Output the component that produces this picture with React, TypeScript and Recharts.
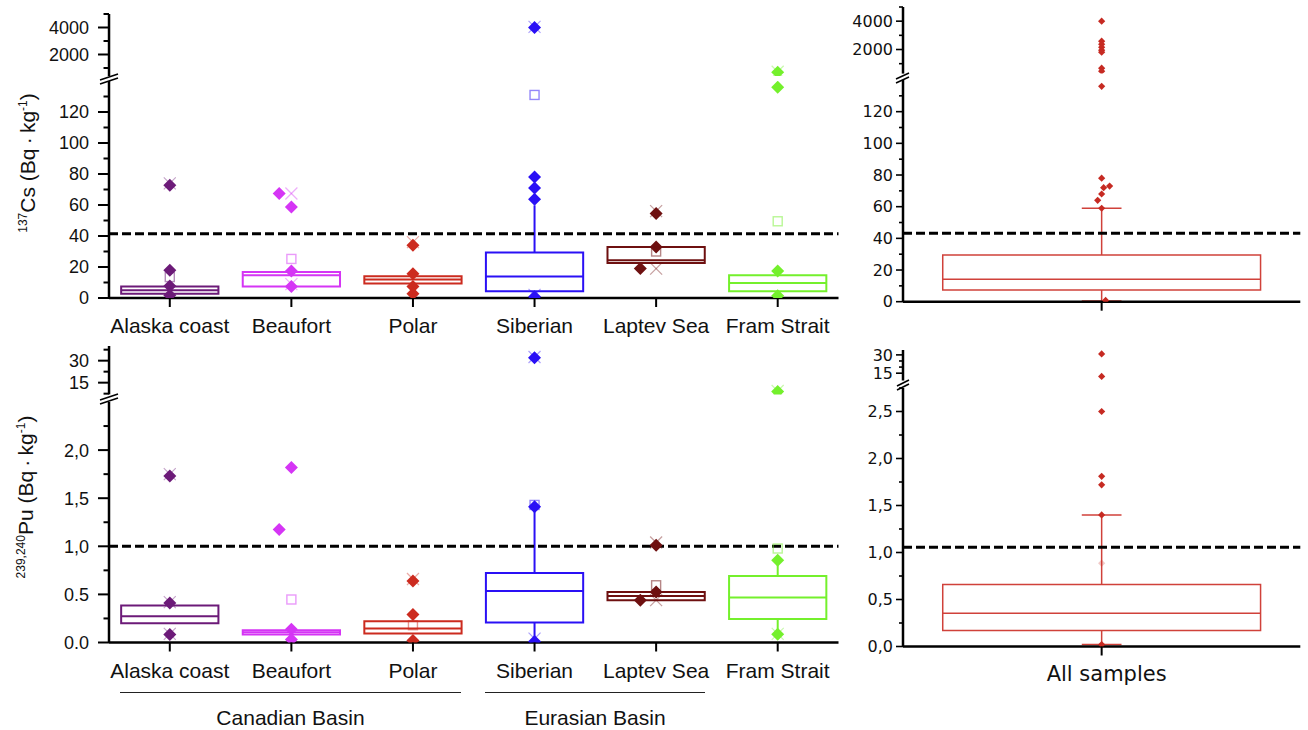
import React from "react";
import {
  ComposedChart,
  XAxis,
  YAxis,
  Scatter,
  ReferenceArea,
  ReferenceLine,
} from "recharts";

const FONT = '"Liberation Sans", Arial, Helvetica, sans-serif';
const FONT_R = '"DejaVu Sans", Verdana, sans-serif';

const regions = ["Alaska coast", "Beaufort", "Polar", "Siberian", "Laptev Sea", "Fram Strait"];
const regionColors = ["#6c1a78", "#d535f5", "#cc2b1f", "#2a10f5", "#6e1010", "#74f02c"];
const regionTicks = [1, 2, 3, 4, 5, 6];
const allLabels = ["All samples"];
const allTicks = [1];
const allColors = ["#c62a22"];

// tick values / labels
const csTicks = [0, 20, 40, 60, 80, 100, 120];
const csTickLabels = ["0", "20", "40", "60", "80", "100", "120"];
const csMinor = [10, 30, 50, 70, 90, 110, 130];
const csHighTicks = [2000, 4000];
const csHighTickLabels = ["2000", "4000"];
const csHighMinor = [1000, 3000, 5000];

const puTicks = [0, 0.5, 1, 1.5, 2];
const puTickLabels = ["0.0", "0.5", "1,0", "1,5", "2,0"];
const puMinor = [0.25, 0.75, 1.25, 1.75, 2.25];
const puHighTicks = [15, 30];
const puHighTickLabels = ["15", "30"];
const puHighMinor = [7.5, 22.5, 37.5];

const puAllTicks = [0, 0.5, 1, 1.5, 2, 2.5];
const puAllTickLabels = ["0,0", "0,5", "1,0", "1,5", "2,0", "2,5"];
const puAllMinor = [0.25, 0.75, 1.25, 1.75, 2.25, 2.75];
const puAllHighMinor = [20, 25];

// 137Cs (Bq·kg-1) by region
const csQ1 = [2.8, 7.5, 9.3, 4.3, 22.6, 4.3];
const csMedian = [5.0, 14.6, 11.9, 13.8, 24.3, 9.7];
const csQ3 = [7.5, 16.8, 14.0, 29.3, 32.9, 14.6];
const csLow = [2.8, 7.5, 9.3, 0.8, 22.6, 4.3];
const csHigh = [7.5, 16.8, 14.0, 59.8, 32.9, 14.6];
const csLimit = 41.5;

// [region, value, marker, nudge]  d = diamond, s = open square, x = cross, f = faint dot
type Obs = [number, number, string, number];
const csObs: Obs[] = [
  [1, 74, "x", 0], [1, 72.7, "d", 0], [1, 17.9, "d", 0], [1, 13.5, "s", 0], [1, 7.7, "d", 0], [1, 1.7, "d", 0],
  [2, 67.4, "x", 0], [2, 67.4, "d", -0.1], [2, 58.7, "d", 0], [2, 25.2, "s", 0], [2, 17.4, "d", 0], [2, 9, "x", 0], [2, 7.5, "d", 0],
  [3, 36, "x", 0], [3, 34, "d", 0], [3, 15.7, "d", 0], [3, 7.5, "d", 0], [3, 2.8, "d", 0],
  [4, 4050, "x", 0], [4, 4000, "d", 0], [4, 131, "s", 0], [4, 78, "d", 0], [4, 71, "d", 0], [4, 63.7, "d", 0], [4, 2, "x", 0], [4, 0.8, "d", 0],
  [5, 56, "x", 0], [5, 54.5, "d", 0], [5, 32.9, "d", 0], [5, 30, "s", 0], [5, 19, "d", -0.13], [5, 19, "x", 0],
  [6, 720, "x", 0], [6, 690, "d", 0], [6, 136, "d", 0], [6, 49.5, "s", 0], [6, 17.4, "d", 0], [6, 1.5, "d", 0],
];

// 239,240Pu (Bq·kg-1) by region
const puQ1 = [0.2, 0.083, 0.094, 0.208, 0.44, 0.245];
const puMedian = [0.273, 0.107, 0.146, 0.536, 0.484, 0.468];
const puQ3 = [0.385, 0.128, 0.221, 0.723, 0.526, 0.69];
const puLow = [0.2, 0.083, 0.094, 0.02, 0.44, 0.086];
const puHigh = [0.385, 0.128, 0.221, 1.41, 0.526, 0.855];
const puLimit = 1.0;

const puObs: Obs[] = [
  [1, 1.75, "x", 0], [1, 1.73, "d", 0], [1, 0.42, "x", 0], [1, 0.41, "d", 0], [1, 0.09, "x", 0], [1, 0.083, "d", 0],
  [2, 1.82, "d", 0], [2, 1.175, "d", -0.1], [2, 0.447, "s", 0], [2, 0.138, "d", 0], [2, 0.03, "d", 0],
  [3, 0.66, "x", 0], [3, 0.64, "d", 0], [3, 0.29, "d", 0], [3, 0.18, "s", 0], [3, 0.02, "d", 0],
  [4, 32.5, "x", 0], [4, 32, "d", 0], [4, 1.43, "s", 0], [4, 1.41, "d", 0], [4, 0.04, "x", 0], [4, 0.01, "d", 0],
  [5, 1.04, "x", 0], [5, 1.01, "d", 0], [5, 0.595, "s", 0], [5, 0.526, "d", 0], [5, 0.44, "d", -0.13], [5, 0.44, "x", 0],
  [6, 9.3, "x", 0], [6, 8.9, "d", 0], [6, 0.977, "s", 0], [6, 0.855, "d", 0], [6, 0.09, "x", 0], [6, 0.086, "d", 0],
];

// all samples
const csAllQ1 = [7.4];
const csAllMedian = [14.1];
const csAllQ3 = [29.5];
const csAllLow = [0.5];
const csAllHigh = [59];
const csAllLimit = 43.2;
const csAllObs: Obs[] = [
  [1, 4000, "d", 0], [1, 2590, "d", 0], [1, 2370, "d", 0], [1, 2160, "d", 0], [1, 1950, "d", 0], [1, 1810, "d", 0],
  [1, 680, "d", 0], [1, 470, "d", 0], [1, 136, "d", 0], [1, 78, "d", 0], [1, 73, "d", 0.02], [1, 72, "d", 0.005],
  [1, 68, "d", 0], [1, 64, "d", -0.01], [1, 59, "d", 0], [1, 0.8, "d", 0.01],
];

const puAllQ1 = [0.17];
const puAllMedian = [0.354];
const puAllQ3 = [0.66];
const puAllLow = [0.02];
const puAllHigh = [1.4];
const puAllLimit = 1.056;
const puAllObs: Obs[] = [
  [1, 30.8, "d", 0], [1, 12.3, "d", 0], [1, 2.5, "d", 0], [1, 1.81, "d", 0], [1, 1.72, "d", 0],
  [1, 1.4, "d", 0], [1, 0.886, "f", 0], [1, 0.02, "d", 0],
];

const MT = 10;
const MR = 8;
const MB = 10;
const XH = 50;
const YW = 110;

function yTick(major: number[], labels: string[], right: boolean) {
  return (props: any) => {
    const { x, y, payload } = props;
    const i = major.indexOf(payload.value);
    const len = i >= 0 ? (right ? 7 : 11) : right ? 4 : 5.5;
    return (
      <g>
        <line x1={x - len} x2={x} y1={y} y2={y} stroke="#000" strokeWidth={right ? 1.6 : 2} />
        {i >= 0 && (
          <text
            x={x - (right ? 10 : 20)}
            y={y}
            dy="0.36em"
            textAnchor="end"
            fontSize={right ? 16 : 18}
            fontFamily={right ? FONT_R : FONT}
            fill="#111"
          >
            {labels[i]}
          </text>
        )}
      </g>
    );
  };
}

function xTick(ticks: number[], labels: string[], right: boolean) {
  return (props: any) => {
    const { x, y, payload } = props;
    const i = ticks.indexOf(payload.value);
    return (
      <g>
        <line x1={x} x2={x} y1={y} y2={y + 9} stroke="#000" strokeWidth={2} />
        <text
          x={x + (right ? 5 : 0)}
          y={y + 35}
          textAnchor="middle"
          fontSize={21}
          fontFamily={right ? FONT_R : FONT}
          fill="#111"
        >
          {labels[i]}
        </text>
      </g>
    );
  };
}

function markShape(small: boolean) {
  return (props: any) => {
    const { cx, cy, payload } = props;
    if (cx == null || cy == null) return <g />;
    const c = payload.color;
    if (payload.kind === "d" || payload.kind === "f") {
      const r = small ? 3.6 : 6.5;
      return (
        <path
          d={`M${cx},${cy - r}L${cx + r},${cy}L${cx},${cy + r}L${cx - r},${cy}Z`}
          fill={c}
          fillOpacity={payload.kind === "f" ? 0.25 : 1}
        />
      );
    }
    if (payload.kind === "s") {
      return (
        <rect x={cx - 4.5} y={cy - 4.5} width={9} height={9} fill="none" stroke={c} strokeOpacity={0.5} strokeWidth={1.4} />
      );
    }
    const h = 6;
    return (
      <g stroke={c} strokeOpacity={0.4} strokeWidth={1.2}>
        <line x1={cx - h} y1={cy - h} x2={cx + h} y2={cy + h} />
        <line x1={cx - h} y1={cy + h} x2={cx + h} y2={cy - h} />
      </g>
    );
  };
}

type SegProps = {
  l: number;
  r: number;
  t: number;
  b: number;
  xDomain: [number, number];
  yDomain: [number, number];
  major: number[];
  majorLabels: string[];
  minor: number[];
  right?: boolean;
  xTicks?: number[];
  xLabels?: string[];
  q1?: number[];
  median?: number[];
  q3?: number[];
  low?: number[];
  high?: number[];
  colors: string[];
  obs: Obs[];
  limit?: number;
};

function Segment(p: SegProps) {
  const showX = !!p.xTicks;
  const right = !!p.right;
  const width = p.r - p.l + YW + MR;
  const height = p.b - p.t + MT + (showX ? XH : MB);
  const half = 0.4;
  const cap = right ? 0.05 : 0;
  const boxColor = (i: number) => (right ? "#d0413a" : p.colors[i]);
  const boxW = right ? 1.5 : 2;

  const pts = p.obs
    .filter((o) => o[1] >= p.yDomain[0] && o[1] <= p.yDomain[1])
    .map((o) => ({ x: o[0] + o[3], y: o[1], kind: o[2], color: p.colors[o[0] - 1] }));

  const boxes: any[] = [];
  if (p.q1 && p.q3 && p.median && p.low && p.high) {
    p.q1.forEach((q1, i) => {
      const cx = i + 1;
      const q3 = p.q3![i];
      const med = p.median![i];
      const lo = p.low![i];
      const hi = p.high![i];
      const c = boxColor(i);
      if (hi > q3) {
        boxes.push(
          <ReferenceLine key={`wh${i}`} segment={[{ x: cx, y: q3 }, { x: cx, y: hi }]} stroke={c} strokeWidth={boxW} />
        );
        if (cap > 0)
          boxes.push(
            <ReferenceLine key={`ch${i}`} segment={[{ x: cx - cap, y: hi }, { x: cx + cap, y: hi }]} stroke={c} strokeWidth={boxW} />
          );
      }
      if (lo < q1) {
        boxes.push(
          <ReferenceLine key={`wl${i}`} segment={[{ x: cx, y: lo }, { x: cx, y: q1 }]} stroke={c} strokeWidth={boxW} />
        );
        if (cap > 0)
          boxes.push(
            <ReferenceLine key={`cl${i}`} segment={[{ x: cx - cap, y: lo }, { x: cx + cap, y: lo }]} stroke={c} strokeWidth={boxW} />
          );
      }
      boxes.push(
        <ReferenceArea
          key={`b${i}`}
          x1={cx - half}
          x2={cx + half}
          y1={q1}
          y2={q3}
          fill="none"
          fillOpacity={0}
          stroke={c}
          strokeWidth={boxW}
        />
      );
      boxes.push(
        <ReferenceLine key={`m${i}`} segment={[{ x: cx - half, y: med }, { x: cx + half, y: med }]} stroke={c} strokeWidth={boxW} />
      );
    });
  }

  return (
    <div style={{ position: "absolute", left: p.l - YW, top: p.t - MT }}>
      <ComposedChart
        width={width}
        height={height}
        margin={{ top: MT, right: MR, bottom: showX ? 0 : MB, left: 0 }}
      >
        <XAxis
          dataKey="x"
          type="number"
          domain={p.xDomain}
          allowDataOverflow
          hide={!showX}
          ticks={p.xTicks}
          interval={0}
          tickSize={0}
          tickMargin={0}
          tickLine={false}
          tick={showX ? xTick(p.xTicks!, p.xLabels!, right) : false}
          axisLine={{ stroke: "#000", strokeWidth: 2.5 }}
          height={XH}
        />
        <YAxis
          dataKey="y"
          type="number"
          domain={p.yDomain}
          allowDataOverflow
          width={YW}
          ticks={[...p.major, ...p.minor]}
          interval={0}
          tickSize={0}
          tickMargin={0}
          tickLine={false}
          tick={yTick(p.major, p.majorLabels, right)}
          axisLine={{ stroke: "#000", strokeWidth: 2.5 }}
        />
        {boxes}
        <Scatter data={pts} isAnimationActive={false} shape={markShape(right)} />
        {p.limit !== undefined && (
          <ReferenceLine y={p.limit} stroke="#000" strokeWidth={3} strokeDasharray="9 4" />
        )}
      </ComposedChart>
    </div>
  );
}

function BreakMark({ x, y, w }: { x: number; y: number; w: number }) {
  return (
    <svg
      style={{ position: "absolute", left: x - w / 2 - 2, top: y - 8 }}
      width={w + 4}
      height={16}
    >
      <line x1={2} y1={10} x2={w + 2} y2={4} stroke="#000" strokeWidth={1.6} />
      <line x1={2} y1={14} x2={w + 2} y2={8} stroke="#000" strokeWidth={1.6} />
    </svg>
  );
}

function AxisTitle({ x, y, sup, main }: { x: number; y: number; sup: string; main: string }) {
  return (
    <div
      style={{
        position: "absolute",
        left: x,
        top: y,
        transform: "translate(-50%, -50%) rotate(-90deg)",
        whiteSpace: "nowrap",
        fontSize: 21,
        fontFamily: FONT,
        lineHeight: 1,
        color: "#111",
      }}
    >
      <sup style={{ fontSize: 12 }}>{sup}</sup>
      {main} (Bq{"\u2009·\u2009"}kg<sup style={{ fontSize: 12 }}>-1</sup>)
    </div>
  );
}

function GroupBracket({ x1, x2, y, label }: { x1: number; x2: number; y: number; label: string }) {
  return (
    <>
      <div style={{ position: "absolute", left: x1, top: y, width: x2 - x1, height: 0, borderTop: "1.5px solid #222" }} />
      <div
        style={{
          position: "absolute",
          left: (x1 + x2) / 2 - 120,
          width: 240,
          top: y + 14,
          textAlign: "center",
          fontSize: 21,
          fontFamily: FONT,
          lineHeight: "24px",
          color: "#111",
        }}
      >
        {label}
      </div>
    </>
  );
}

export default function App() {
  const left = { l: 108.5, r: 838, xDomain: [0.5, 6.5] as [number, number] };
  const rightP = { l: 902.7, r: 1300, xDomain: [0.5, 1.5] as [number, number] };
  return (
    <div style={{ position: "absolute", left: 0, top: 0, width: 1308, height: 730, background: "#fff", overflow: "hidden" }}>
      {/* 137Cs by region */}
      <Segment {...left} t={13.5} b={75.6} yDomain={[400, 5000]} major={csHighTicks} majorLabels={csHighTickLabels} minor={csHighMinor} colors={regionColors} obs={csObs} />
      <Segment
        {...left}
        t={80.7}
        b={297.7}
        yDomain={[0, 140]}
        major={csTicks}
        majorLabels={csTickLabels}
        minor={csMinor}
        xTicks={regionTicks}
        xLabels={regions}
        q1={csQ1}
        median={csMedian}
        q3={csQ3}
        low={csLow}
        high={csHigh}
        colors={regionColors}
        obs={csObs}
        limit={csLimit}
      />
      <BreakMark x={108.5} y={78} w={18} />
      <AxisTitle x={27} y={163} sup="137" main="Cs" />

      {/* 137Cs all samples */}
      <Segment {...rightP} right t={6.8} b={73.4} yDomain={[300, 5000]} major={csHighTicks} majorLabels={csHighTickLabels} minor={csHighMinor} colors={allColors} obs={csAllObs} />
      <Segment
        {...rightP}
        right
        t={80}
        b={301.7}
        yDomain={[0, 140]}
        major={csTicks}
        majorLabels={csTickLabels}
        minor={csMinor}
        xTicks={allTicks}
        xLabels={[""]}
        q1={csAllQ1}
        median={csAllMedian}
        q3={csAllQ3}
        low={csAllLow}
        high={csAllHigh}
        colors={allColors}
        obs={csAllObs}
        limit={csAllLimit}
      />
      <BreakMark x={902.7} y={77} w={13} />

      {/* 239,240Pu by region */}
      <Segment {...left} t={346} b={394.4} yDomain={[7, 40]} major={puHighTicks} majorLabels={puHighTickLabels} minor={puHighMinor} colors={regionColors} obs={puObs} />
      <Segment
        {...left}
        t={401.8}
        b={642.3}
        yDomain={[0, 2.5]}
        major={puTicks}
        majorLabels={puTickLabels}
        minor={puMinor}
        xTicks={regionTicks}
        xLabels={regions}
        q1={puQ1}
        median={puMedian}
        q3={puQ3}
        low={puLow}
        high={puHigh}
        colors={regionColors}
        obs={puObs}
        limit={puLimit}
      />
      <BreakMark x={108.5} y={398} w={18} />
      <AxisTitle x={25} y={497} sup="239,240" main="Pu" />

      {/* 239,240Pu all samples */}
      <Segment {...rightP} right t={350.1} b={380.6} yDomain={[9, 34]} major={puHighTicks} majorLabels={puHighTickLabels} minor={puAllHighMinor} colors={allColors} obs={puAllObs} />
      <Segment
        {...rightP}
        right
        t={387.5}
        b={646}
        yDomain={[0, 2.75]}
        major={puAllTicks}
        majorLabels={puAllTickLabels}
        minor={puAllMinor}
        xTicks={allTicks}
        xLabels={allLabels}
        q1={puAllQ1}
        median={puAllMedian}
        q3={puAllQ3}
        low={puAllLow}
        high={puAllHigh}
        colors={allColors}
        obs={puAllObs}
        limit={puAllLimit}
      />
      <BreakMark x={902.7} y={384} w={12} />

      <GroupBracket x1={120} x2={461} y={692} label="Canadian Basin" />
      <GroupBracket x1={485} x2={705} y={692} label="Eurasian Basin" />
    </div>
  );
}
